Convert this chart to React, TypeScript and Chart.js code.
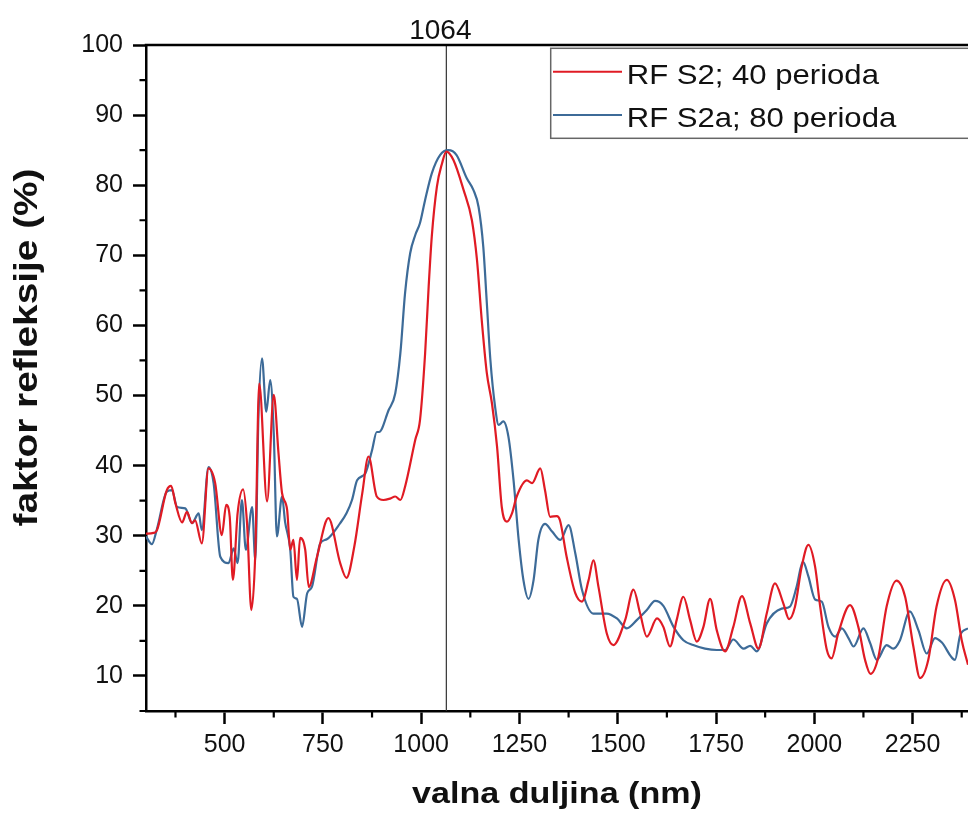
import React, { useEffect, useRef } from "react";
import { Chart, registerables } from "chart.js";

Chart.register(...registerables);

// ---------- data ----------
const RED_LABEL = "RF S2; 40 perioda";
const BLUE_LABEL = "RF S2a; 80 perioda";

const redWl = [300, 319, 328, 353, 364, 375, 392, 404, 417, 425, 442, 459, 476, 493, 504, 513, 521, 533, 547, 557, 568, 578, 588, 608, 625, 637, 646, 659, 667, 675, 684, 692, 705, 714, 735, 764, 794, 810, 830, 850, 866, 887, 904, 921, 934, 947, 959, 985, 997, 1010, 1019, 1027, 1040, 1053, 1064, 1082, 1108, 1129, 1142, 1154, 1167, 1180, 1193, 1205, 1218, 1231, 1243, 1269, 1282, 1303, 1315, 1328, 1345, 1353, 1370, 1392, 1409, 1426, 1438, 1451, 1472, 1489, 1519, 1540, 1557, 1574, 1600, 1616, 1633, 1650, 1667, 1684, 1701, 1718, 1735, 1752, 1773, 1794, 1816, 1837, 1858, 1879, 1900, 1921, 1936, 1951, 1968, 1985, 2002, 2015, 2032, 2044, 2061, 2091, 2112, 2129, 2143, 2163, 2184, 2209, 2231, 2252, 2269, 2290, 2311, 2337, 2358, 2375, 2391];
const redR = [30.3, 30.4, 30.8, 36.5, 37.1, 34.6, 31.9, 33.4, 31.8, 32.2, 28.9, 39.6, 37.5, 30.1, 34.4, 32.7, 23.7, 33.2, 36.6, 31.8, 19.4, 27.5, 51.7, 34.9, 50.1, 41.8, 36.1, 33.7, 28, 29.4, 23.7, 29.7, 28, 22.7, 27, 32.5, 26.1, 24.0, 28.5, 36, 41.3, 35.6, 35.1, 35.3, 35.6, 35.1, 37, 43.7, 46.5, 56, 65.5, 72.7, 79.8, 83.1, 84.8, 83.6, 79.3, 75, 69.3, 60.8, 53.2, 48.9, 42.7, 34.1, 32, 33.2, 35.6, 37.9, 37.5, 39.6, 36.5, 32.7, 32.8, 32.2, 27, 21.8, 20.6, 23.7, 26.5, 22.7, 16.1, 14.4, 18, 22.3, 18.9, 15.6, 18.2, 17, 14.2, 18, 21.3, 18, 14.9, 17, 21, 16.5, 13.5, 17, 21.4, 17.5, 13.9, 18.9, 23.2, 20.4, 18.1, 19.9, 25.6, 28.7, 25.6, 19.9, 13.7, 12.5, 16.1, 20.1, 17, 12.3, 10.3, 12.7, 19.9, 23.6, 21.3, 14.2, 9.7, 12.3, 19.9, 23.7, 20.8, 15.1, 11.6];

const blueWl = [300, 315, 328, 353, 366, 379, 400, 417, 434, 442, 459, 472, 489, 510, 523, 533, 544, 554, 570, 578, 586, 595, 606, 616, 625, 633, 646, 654, 667, 675, 684, 697, 710, 722, 743, 760, 794, 810, 824, 837, 858, 875, 887, 893, 917, 934, 947, 959, 972, 985, 997, 1010, 1027, 1048, 1069, 1090, 1116, 1133, 1146, 1158, 1167, 1176, 1188, 1197, 1209, 1222, 1235, 1248, 1260, 1273, 1286, 1298, 1315, 1333, 1354, 1375, 1392, 1409, 1438, 1472, 1498, 1523, 1549, 1574, 1595, 1616, 1642, 1667, 1692, 1722, 1752, 1773, 1794, 1820, 1837, 1854, 1879, 1917, 1938, 1955, 1971, 1985, 2002, 2019, 2036, 2053, 2070, 2087, 2100, 2125, 2142, 2159, 2184, 2201, 2218, 2243, 2265, 2286, 2307, 2324, 2358, 2371, 2391];
const blueR = [29.9, 28.8, 31, 36.3, 36.5, 34.1, 33.9, 31.8, 33.2, 30.8, 39.8, 37.5, 27, 26.1, 28.2, 26.1, 35.1, 28, 34.1, 26.5, 47, 55.3, 47.7, 52.2, 44.6, 29.9, 35.6, 31.9, 28, 21.3, 21, 17, 21.8, 22.7, 28.9, 29.5, 31.8, 33.2, 35.1, 37.9, 38.9, 42.2, 44.8, 44.8, 47.9, 50.3, 56, 64.6, 70.3, 72.9, 74.6, 77.9, 81.7, 84.3, 85.0, 84.3, 81, 79.3, 76.9, 71.2, 63.2, 55.1, 48.4, 45.8, 46.3, 44.1, 37.9, 29.4, 23.7, 21, 23.7, 29.4, 31.7, 30.6, 29.4, 31.5, 27.5, 22.3, 18.9, 18.9, 18.2, 16.8, 18, 19.4, 20.7, 20, 17, 15.1, 14.4, 13.9, 13.7, 13.7, 15.2, 13.9, 14.3, 13.5, 17.5, 19.6, 19.9, 22.7, 26.3, 24.2, 20.9, 20.6, 17, 15.6, 16.8, 15.4, 14.2, 16.8, 14.7, 12.3, 14.4, 13.9, 15.1, 19.2, 16.5, 13.2, 15.4, 14.8, 12.3, 15.8, 16.8];

const xTicks = [500, 750, 1000, 1250, 1500, 1750, 2000, 2250];
const xTickLabels = ["500", "750", "1000", "1250", "1500", "1750", "2000", "2250"];
const xMinor = [375, 625, 875, 1125, 1375, 1625, 1875, 2125, 2375];
const yTicks = [10, 20, 30, 40, 50, 60, 70, 80, 90, 100];
const yTickLabels = ["10", "20", "30", "40", "50", "60", "70", "80", "90", "100"];
const yMinor = [5, 15, 25, 35, 45, 55, 65, 75, 85, 95];
const MARKER_WL = 1064;
const MARKER_LABEL = "1064";
const X_TITLE = "valna duljina (nm)";
const Y_TITLE = "faktor refleksije (%)";

const RED = "#e01b24";
const BLUE = "#3d6b98";
const FONT = '"Liberation Sans", Arial, sans-serif';

function stretchText(ctx: CanvasRenderingContext2D, text: string, x: number, y: number, sx: number, align: CanvasTextAlign) {
  ctx.save();
  ctx.translate(x, y);
  ctx.scale(sx, 1);
  ctx.textAlign = align;
  ctx.textBaseline = "alphabetic";
  ctx.fillText(text, 0, 0);
  ctx.restore();
}

const decorPlugin = {
  id: "decor",
  beforeDatasetsDraw(chart: any) {
    const { ctx, chartArea: ca, scales } = chart;
    const mx = scales.x.getPixelForValue(MARKER_WL);
    ctx.save();
    ctx.strokeStyle = "#333";
    ctx.lineWidth = 1.2;
    ctx.beginPath();
    ctx.moveTo(mx, ca.top);
    ctx.lineTo(mx, ca.bottom);
    ctx.stroke();
    ctx.restore();
  },
  afterDraw(chart: any) {
    const { ctx, chartArea: ca, scales } = chart;
    const xs = scales.x;
    const ys = scales.y;
    ctx.save();
    // top frame line
    ctx.strokeStyle = "#000";
    ctx.lineWidth = 2.5;
    ctx.beginPath();
    ctx.moveTo(ca.left - 1.25, ca.top);
    ctx.lineTo(ca.right, ca.top);
    ctx.stroke();
    // minor ticks
    ctx.lineWidth = 2.2;
    ctx.beginPath();
    for (const v of xMinor) {
      const px = xs.getPixelForValue(v);
      if (px < ca.left || px > ca.right) continue;
      ctx.moveTo(px, ca.bottom);
      ctx.lineTo(px, ca.bottom + 6.5);
    }
    for (const v of yMinor) {
      const py = ys.getPixelForValue(v);
      ctx.moveTo(ca.left - 6.5, py);
      ctx.lineTo(ca.left, py);
    }
    ctx.stroke();

    // marker label
    const mx = xs.getPixelForValue(MARKER_WL);
    ctx.fillStyle = "#111";
    ctx.font = `28px ${FONT}`;
    stretchText(ctx, MARKER_LABEL, mx - 6, 38.5, 1, "center");

    // legend
    const lx = 550.7, ly = 48.3, lh = 90;
    ctx.fillStyle = "#fff";
    ctx.fillRect(lx, ly, 980 - lx, lh);
    ctx.strokeStyle = "#666";
    ctx.lineWidth = 1.5;
    ctx.strokeRect(lx, ly, 980 - lx, lh);
    const items = [
      { label: RED_LABEL, color: RED, y: 71.7, base: 83.5 },
      { label: BLUE_LABEL, color: BLUE, y: 115, base: 126.8 },
    ];
    for (const it of items) {
      ctx.strokeStyle = it.color;
      ctx.lineWidth = 2;
      ctx.beginPath();
      ctx.moveTo(553, it.y);
      ctx.lineTo(622, it.y);
      ctx.stroke();
      ctx.fillStyle = "#111";
      ctx.font = `28px ${FONT}`;
      stretchText(ctx, it.label, 626.7, it.base, 1.11, "left");
    }

    // axis titles
    ctx.fillStyle = "#111";
    ctx.font = `bold 29px ${FONT}`;
    stretchText(ctx, X_TITLE, (ca.left + ca.right) / 2, 803.3, 1.176, "center");

    ctx.save();
    ctx.translate(37, 347.5);
    ctx.rotate(-Math.PI / 2);
    ctx.font = `bold 33px ${FONT}`;
    stretchText(ctx, Y_TITLE, 0, 0, 1.176, "center");
    ctx.restore();

    ctx.restore();
  },
};

export default function App() {
  const ref = useRef<HTMLCanvasElement | null>(null);

  useEffect(() => {
    if (!ref.current) return;
    const chart = new Chart(ref.current, {
      type: "line",
      data: {
        datasets: [
          {
            label: RED_LABEL,
            data: redWl.map((x, i) => ({ x, y: redR[i] })),
            borderColor: RED,
            borderWidth: 2.2,
            pointRadius: 0,
            fill: false,
            cubicInterpolationMode: "monotone",
          },
          {
            label: BLUE_LABEL,
            data: blueWl.map((x, i) => ({ x, y: blueR[i] })),
            borderColor: BLUE,
            borderWidth: 2.2,
            pointRadius: 0,
            fill: false,
            cubicInterpolationMode: "monotone",
          },
        ],
      },
      options: {
        responsive: false,
        animation: false,
        devicePixelRatio: 1,
        layout: { padding: { top: 45, right: 0, left: 0, bottom: 0 } },
        plugins: {
          legend: { display: false },
          tooltip: { enabled: false },
          title: { display: false },
        },
        scales: {
          x: {
            type: "linear",
            min: 300,
            max: 2391,
            afterBuildTicks: (s: any) => {
              s.ticks = xTicks.map((v) => ({ value: v }));
            },
            afterFit: (s: any) => {
              s.height = 106;
            },
            border: { display: true, color: "#000", width: 2.5 },
            grid: {
              display: true,
              drawOnChartArea: false,
              drawTicks: true,
              tickLength: 13,
              tickWidth: 2.5,
              tickColor: "#000",
            },
            ticks: {
              color: "#111",
              font: { family: FONT, size: 25 },
              padding: 6,
              maxRotation: 0,
              autoSkip: false,
              callback: (v: any) => {
                const i = xTicks.indexOf(Number(v));
                return i >= 0 ? xTickLabels[i] : "";
              },
            },
          },
          y: {
            type: "linear",
            min: 5,
            max: 100,
            afterBuildTicks: (s: any) => {
              s.ticks = yTicks.map((v) => ({ value: v }));
            },
            afterFit: (s: any) => {
              s.width = 146;
            },
            border: { display: true, color: "#000", width: 2.5 },
            grid: {
              display: true,
              drawOnChartArea: false,
              drawTicks: true,
              tickLength: 13,
              tickWidth: 2.5,
              tickColor: "#000",
            },
            ticks: {
              color: "#111",
              font: { family: FONT, size: 25 },
              padding: 10,
              autoSkip: false,
              callback: (v: any) => {
                const i = yTicks.indexOf(Number(v));
                return i >= 0 ? yTickLabels[i] : "";
              },
            },
          },
        },
      },
      plugins: [decorPlugin],
    } as any);
    return () => chart.destroy();
  }, []);

  return (
    <div style={{ position: "absolute", left: 0, top: 0, width: 968, height: 817, background: "#fff" }}>
      <canvas ref={ref} width={968} height={817} style={{ display: "block", width: 968, height: 817 }} />
    </div>
  );
}
